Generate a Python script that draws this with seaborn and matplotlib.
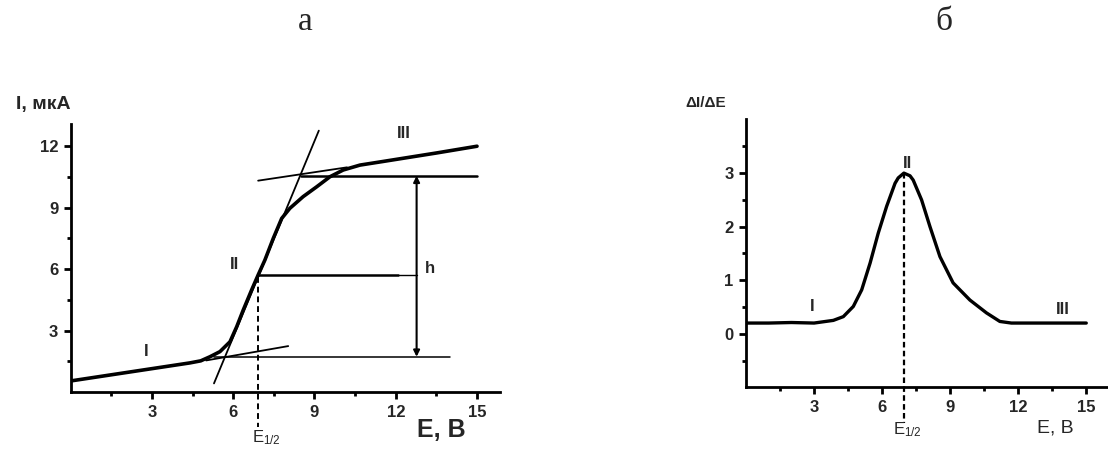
import numpy as np
import pandas as pd
import matplotlib
matplotlib.use("Agg")
import matplotlib.pyplot as plt
import seaborn as sns
from matplotlib.ticker import FixedLocator

# ---------------- data ----------------
# panel a: polarogram I(E)
E_curve = [0, 1, 2, 3, 4, 4.4, 4.8, 5.14, 5.51, 5.88, 6.13, 6.37, 6.68, 6.92,
           7.17, 7.48, 7.79, 8.09, 8.58, 9.08, 9.57, 10.06, 10.68, 11.5, 12.5,
           13.5, 15]
I_curve = [0.55, 0.75, 0.95, 1.15, 1.35, 1.43, 1.53, 1.73, 1.98, 2.46, 3.20,
           4.01, 4.99, 5.72, 6.45, 7.51, 8.48, 8.97, 9.54, 10.02, 10.51, 10.84,
           11.08, 11.25, 11.46, 11.67, 12.0]
# tangents (x0, y0, x1, y1)
tan_I = [5.0, 1.55, 8.03, 2.25]
tan_II = [5.29, 0.43, 9.16, 12.76]
tan_III = [6.92, 10.32, 10.2, 10.97]
# horizontal construction lines (y, x_start, x_end)
h_top = [10.56, 8.5, 15.0]
h_mid = [5.72, 6.92, 12.8]
h_bot = [1.73, 5.3, 14.0]
E_half = 6.92
I_half = 5.6
h_x = 12.77

# panel b: derivative dI/dE
E_deriv = [0, 1, 2, 3, 3.85, 4.29, 4.73, 5.10, 5.47, 5.83, 6.20, 6.57, 6.71,
           6.96, 7.23, 7.37, 7.74, 8.11, 8.55, 9.13, 9.87, 10.6, 11.19, 11.7,
           12.5, 13.5, 15]
dI_deriv = [0.2, 0.2, 0.21, 0.2, 0.25, 0.32, 0.51, 0.82, 1.32, 1.88, 2.38,
            2.81, 2.91, 3.0, 2.95, 2.87, 2.5, 2.0, 1.44, 0.95, 0.63, 0.39, 0.23,
            0.2, 0.2, 0.2, 0.2]
E_peak = 6.96
dI_peak = 3.0

xticks = [3, 6, 9, 12, 15]
xminor = [1.5, 4.5, 7.5, 10.5, 13.5]
yticks_a = [3, 6, 9, 12]
yminor_a = [1.5, 4.5, 7.5, 10.5]
yticks_b = [0, 1, 2, 3]
yminor_b = [-0.5, 0.5, 1.5, 2.5, 3.5]

# ---------------- style ----------------
sns.set_theme(style="ticks")
plt.rcParams['font.family'] = ['Liberation Sans', 'DejaVu Sans']
plt.rcParams['mathtext.default'] = 'regular'

fig = plt.figure(figsize=(11.08, 4.5), dpi=100)
axA = fig.add_axes([0.0638, 0.1284, 0.3875, 0.5954])
axB = fig.add_axes([0.6733, 0.1393, 0.3255, 0.5962])

def style_axes(ax, xlim, ylim, xt, xm, yt, ym, fs):
    ax.set_xlim(*xlim)
    ax.set_ylim(*ylim)
    for s in ['top', 'right']:
        ax.spines[s].set_visible(False)
    for s in ['left', 'bottom']:
        ax.spines[s].set_linewidth(2.0)
        ax.spines[s].set_color('black')
    ax.xaxis.set_major_locator(FixedLocator(xt))
    ax.xaxis.set_minor_locator(FixedLocator(xm))
    ax.yaxis.set_major_locator(FixedLocator(yt))
    ax.yaxis.set_minor_locator(FixedLocator(ym))
    ax.tick_params(which='major', direction='out', length=5, width=2,
                   color='black', labelsize=fs, pad=4)
    ax.tick_params(which='minor', direction='out', length=3, width=2,
                   color='black')
    for lab in ax.get_xticklabels() + ax.get_yticklabels():
        lab.set_fontweight('bold')
    ax.set_xlabel('')
    ax.set_ylabel('')

# ---------------- panel a ----------------
dfA = pd.DataFrame({'E': E_curve, 'I': I_curve})
sns.lineplot(data=dfA, x='E', y='I', ax=axA, color='black', lw=2.6, sort=False,
             solid_joinstyle='round', solid_capstyle='round')
lw_thin = 1.3
axA.plot([tan_I[0], tan_I[2]], [tan_I[1], tan_I[3]], color='black', lw=lw_thin)
axA.plot([tan_II[0], tan_II[2]], [tan_II[1], tan_II[3]], color='black', lw=lw_thin)
axA.plot([tan_III[0], tan_III[2]], [tan_III[1], tan_III[3]], color='black', lw=lw_thin)
axA.plot([h_top[1], h_top[2]], [h_top[0], h_top[0]], color='black', lw=1.8)
axA.plot([h_mid[1], 12.1], [h_mid[0], h_mid[0]], color='black', lw=1.8)
axA.plot([12.1, h_mid[2]], [h_mid[0], h_mid[0]], color='black', lw=1.0)
axA.plot([h_bot[1], h_bot[2]], [h_bot[0], h_bot[0]], color='black', lw=1.1)
axA.plot([E_half, E_half], [I_half, -1.7], color='black', lw=1.4,
         ls=(0, (3, 2)), clip_on=False)
axA.annotate('', xy=(h_x, h_top[0]), xytext=(h_x, h_bot[0]),
             arrowprops=dict(arrowstyle='<|-|>', lw=1.5, color='black',
                             mutation_scale=9, shrinkA=0, shrinkB=0))
style_axes(axA, (0, 15.85), (0, 13.07), xticks, xminor, yticks_a, yminor_a, 12)
lab_kw = dict(fontweight='bold', fontsize=12, ha='center', va='center')
axA.text(2.77, 1.98, 'I', **lab_kw)
axA.text(6.04, 6.24, 'II', **lab_kw)
axA.text(12.31, 12.63, 'III', **lab_kw)
axA.text(13.28, 6.04, 'h', **lab_kw)
fig.text(43 / 1108, 1 - 105 / 450, 'I, мкА', fontweight='bold', fontsize=14,
         ha='center', va='center')
fig.text(441 / 1108, 1 - 430 / 450, 'E, В', fontweight='bold', fontsize=18,
         ha='center', va='center')
fig.text(266 / 1108, 1 - 438 / 450, 'E$_{1/2}$', fontsize=12,
         ha='center', va='center')

# ---------------- panel b ----------------
dfB = pd.DataFrame({'E': E_deriv, 'dI': dI_deriv})
sns.lineplot(data=dfB, x='E', y='dI', ax=axB, color='black', lw=2.4, sort=False,
             solid_joinstyle='round', solid_capstyle='round')
axB.plot([E_peak, E_peak], [dI_peak, -1.66], color='black', lw=1.6,
         ls=(0, (2.5, 1.5)), clip_on=False)
style_axes(axB, (0, 15.9), (-1.0, 4.01), xticks, xminor, yticks_b, yminor_b, 12)
axB.text(2.9, 0.51, 'I', **lab_kw)
axB.text(7.12, 3.18, 'II', **lab_kw)
axB.text(13.97, 0.45, 'III', **lab_kw)
fig.text(706 / 1108, 1 - 103 / 450, 'ΔI/ΔE', fontweight='bold', fontsize=11,
         ha='center', va='center')
fig.text(1055 / 1108, 1 - 428 / 450, 'E, В', fontsize=14,
         ha='center', va='center')
fig.text(907 / 1108, 1 - 430 / 450, 'E$_{1/2}$', fontsize=12,
         ha='center', va='center')

# ---------------- panel titles ----------------
fig.text(305 / 1108, 1 - 30 / 450, 'а', family=['Liberation Serif', 'DejaVu Serif'],
         fontsize=24, ha='center', va='baseline')
fig.text(944 / 1108, 1 - 30 / 450, 'б', family=['Liberation Serif', 'DejaVu Serif'],
         fontsize=24, ha='center', va='baseline')

fig.savefig('out.png', dpi=100)
